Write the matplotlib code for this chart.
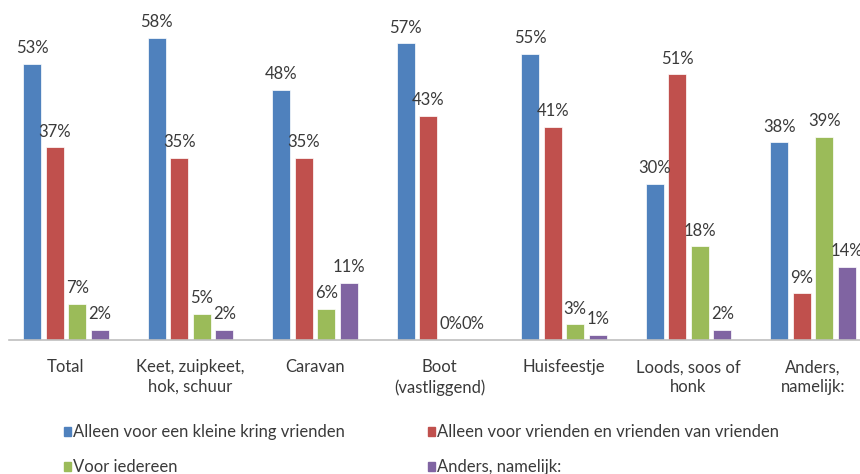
import numpy as np
import matplotlib.pyplot as plt
from matplotlib.patches import Rectangle

plt.rcParams['font.family'] = ['Lato', 'DejaVu Sans']

categories = ['Total', 'Keet, zuipkeet,\nhok, schuur', 'Caravan', 'Boot\n(vastliggend)',
              'Huisfeestje', 'Loods, soos of\nhonk', 'Anders,\nnamelijk:']
series = ['Alleen voor een kleine kring vrienden',
          'Alleen voor vrienden en vrienden van vrienden',
          'Voor iedereen',
          'Anders, namelijk:']
blue = [53, 58, 48, 57, 55, 30, 38]
red = [37, 35, 35, 43, 41, 51, 9]
green = [7, 5, 6, 0, 3, 18, 39]
purple = [2, 2, 11, 0, 1, 2, 14]
values = [blue, red, green, purple]
colors = ['#4F81BD', '#C0504D', '#9BBB59', '#8064A2']
txt = '#3A3A3A'

fig = plt.figure(figsize=(8.6, 4.74), dpi=100)
ax = fig.add_axes([0, 1 - 340 / 474, 1, 340 / 474])

x = np.arange(len(categories))
pitch = 0.181
width = 0.145
for k, (vals, c) in enumerate(zip(values, colors)):
    pos = x + (k - 1.5) * pitch
    ax.bar(pos, vals, width, color=c, edgecolor='white', linewidth=0.5)
    for p, v in zip(pos, vals):
        ax.annotate(f'{v}%', (p, v), xytext=(0, 5.5), textcoords='offset points',
                    ha='center', va='bottom', fontsize=12, color=txt)

ax.set_xlim(-0.530, 6.378)
ax.set_ylim(0, 65.3)
ax.set_yticks([])
ax.set_xticks(x)
ax.set_xticklabels(categories, fontsize=12, color=txt, linespacing=1.28)
ax.tick_params(axis='x', length=0, pad=14)
for s in ['top', 'right', 'left']:
    ax.spines[s].set_visible(False)
ax.spines['bottom'].set_color('#BFBFBF')
ax.spines['bottom'].set_linewidth(1.2)
ax.spines['bottom'].set_bounds(-0.458, 6.378)

# legend, two columns
lx = [64, 428]
ly = [432, 467]
for k, (name, c) in enumerate(zip(series, colors)):
    px = lx[k % 2]
    py = ly[k // 2]
    fig.patches.append(Rectangle((px / 860, 1 - (py + 4) / 474), 7 / 860, 9 / 474,
                                 transform=fig.transFigure, color=c))
    fig.text((px + 9) / 860, 1 - py / 474, name, fontsize=12, color=txt,
             va='center', ha='left')

fig.savefig('out.png', dpi=100)
